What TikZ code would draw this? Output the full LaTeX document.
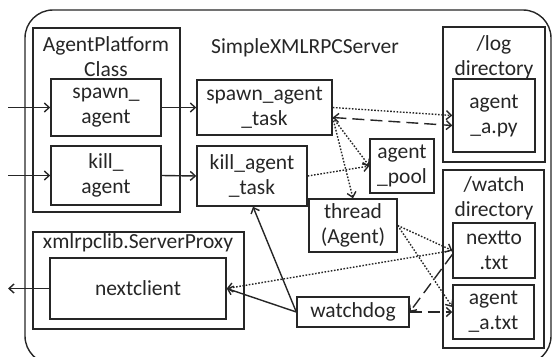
\documentclass[tikz,border=0pt]{standalone}
\usepackage{fontspec}
\setmainfont{Carlito}
\usetikzlibrary{arrows.meta}
\definecolor{ink}{HTML}{262626}
\begin{document}
\begin{tikzpicture}[x=1pt, y=-1pt, line width=1.4pt, color=ink,
    font=\fontsize{21.5}{25}\selectfont,
    >={Straight Barb[length=5pt,width=9pt]},
    box/.style={draw, rectangle, align=center, inner sep=0pt},
    lbl/.style={align=center, inner sep=0pt},
    dotline/.style={->, dash pattern=on 1.6pt off 1.6pt},
    dashline/.style={->, dash pattern=on 12pt off 6pt}]
    \useasboundingbox (0,0) rectangle (553,356);
    \draw[rounded corners=28pt] (25,10) rectangle (551,364);
    % containers
    \node[box, minimum width=147, minimum height=184] (apc) at (106.5,120) {};
    \node[lbl] (apclbl) at (106,57) {AgentPlatform\\Class};
    \node[lbl] (srvlbl) at (305,48) {SimpleXMLRPCServer};
    \node[box, minimum width=102, minimum height=135] (logdir) at (494,94.5) {};
    \node[lbl] (loglbl) at (494,57) {/log\\directory};
    \node[box, minimum width=101, minimum height=178] (watchdir) at (493.5,259) {};
    \node[lbl] (watchlbl) at (494,198) {/watch\\directory};
    \node[box, minimum width=211, minimum height=97] (proxy) at (138.5,280.5) {};
    \node[lbl] (proxylbl) at (138,243) {xmlrpclib.ServerProxy};
    % inner boxes
    \node[box, minimum width=110, minimum height=57] (spawn) at (106,107.5) {spawn\_\\agent};
    \node[box, minimum width=110, minimum height=59] (kill) at (106,175.5) {kill\_\\agent};
    \node[box, minimum width=135, minimum height=55] (spawntask) at (264.5,107.5) {spawn\_agent\\\_task};
    \node[box, minimum width=110, minimum height=60] (killtask) at (252,176) {kill\_agent\\\_task};
    \node[box, minimum width=82, minimum height=73] (agentpy) at (494,115.5) {agent\\\_a.py};
    \node[box, minimum width=64, minimum height=54] (pool) at (402,166) {agent\\\_pool};
    \node[box, minimum width=88, minimum height=53] (thread) at (353,225.5) {thread\\(Agent)};
    \node[box, minimum width=82, minimum height=55] (nextto) at (494,250.5) {nextto\\.txt};
    \node[box, minimum width=81, minimum height=54] (agenttxt) at (493.5,312) {agent\\\_a.txt};
    \node[box, minimum width=176, minimum height=61] (client) at (138,288.5) {nextclient};
    \node[box, minimum width=112, minimum height=30] (watchdog) at (353,312) {watchdog};
    % free ends
    \coordinate (inspawn) at (8,107.5);
    \coordinate (inkill) at (8,175.5);
    \coordinate (outclient) at (8,288.5);
    % solid arrows
    \draw[->] (inspawn) -- (spawn.west);
    \draw[->] (inkill) -- (kill.west);
    \draw[->] (client.west) -- (outclient);
    \draw[->] (spawn.east) -- (spawntask.west);
    \draw[->] (kill.east) -- (killtask.west);
    \draw[->] (watchdog.west) -- ([xshift=1pt]killtask.south);
    \draw[->] (watchdog.west) -- (client.east);
    % dotted arrows
    \draw[dotline] (spawntask.east) -- (agentpy.west);
    \draw[dotline] ([yshift=-10pt]spawntask.east) -- (pool.west);
    \draw[dotline] ([yshift=-10pt]spawntask.east) -- (thread.north);
    \draw[dotline] (killtask.east) -- (pool.west);
    \draw[dotline] (thread.east) -- (nextto.west);
    \draw[dotline] (thread.east) -- ([yshift=5pt]agenttxt.west);
    \draw[dotline] (nextto.west) -- (client.east);
    % dashed arrows
    \draw[dashline, <->] ([yshift=-10pt]spawntask.east) -- ([yshift=-10pt]agentpy.west);
    \draw[dashline] ([yshift=-4pt]nextto.west) -- (watchdog.east);
    \draw[dashline] (watchdog.east) -- (agenttxt.west);
\end{tikzpicture}
\end{document}
